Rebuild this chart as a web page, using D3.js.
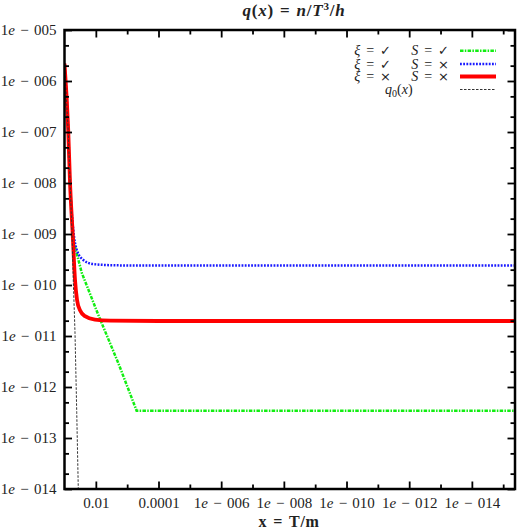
<!DOCTYPE html>
<meta charset="utf-8">
<script src="https://d3js.org/d3.v7.min.js"></script>
<style>
  body { margin: 0; background: #fff; }
  text { font-family: "Liberation Serif", "DejaVu Serif", serif; fill: #222; }
</style>
<div id="chart"></div>
<script>

// ---- data ----
var redX   = [0.1, 0.0759, 0.0668, 0.0550, 0.0462, 0.0398, 0.0320, 0.0222, 0.0107, 3.5e-3, 1e-4, 4.2e-16];
var redY   = [2.2e-6, 1.05e-7, 1.05e-8, 1.05e-9, 1.26e-10, 5.1e-11, 3.2e-11, 2.45e-11, 2.1e-11, 2.0e-11, 1.97e-11, 1.97e-11];

var blueX  = [0.1, 0.0759, 0.0668, 0.0524, 0.0408, 0.0251, 0.0120, 2.14e-3, 1.86e-4, 4.2e-16];
var blueY  = [2.2e-6, 1.05e-7, 1.05e-8, 1.2e-9, 4.9e-10, 3.1e-10, 2.57e-10, 2.43e-10, 2.4e-10, 2.4e-10];

var greenX = [0.1, 0.0759, 0.0668, 0.0550, 0.0462, 0.0282, 8.3e-3, 1.92e-3, 5.0e-4, 4.2e-16];
var greenY = [2.2e-6, 1.05e-7, 1.05e-8, 1.05e-9, 5.6e-10, 1.74e-10, 2.57e-11, 2.95e-12, 3.43e-13, 3.43e-13];

var q0X    = [0.1, 0.0759, 0.0661, 0.0575, 0.0525, 0.0462, 0.0407, 0.0363];
var q0Y    = [2.2e-6, 1e-7, 1e-8, 1e-9, 1.26e-10, 1.15e-11, 3.2e-13, 1e-14];

var xMajor = [1e-2, 1e-4, 1e-6, 1e-8, 1e-10, 1e-12, 1e-14];
var xMinor = [1e-3, 1e-5, 1e-7, 1e-9, 1e-11, 1e-13, 1e-15];
var yMajor = [1e-5, 1e-6, 1e-7, 1e-8, 1e-9, 1e-10, 1e-11, 1e-12, 1e-13, 1e-14];
var yMinor = [];
for (var k = 6; k <= 14; k++) { yMinor.push(2 * Math.pow(10, -k), 5 * Math.pow(10, -k)); }

var legendLabels = [["ξ", "✓", "S", "✓"], ["ξ", "✓", "S", "×"], ["ξ", "×", "S", "×"]];

// ---- layout ----
var W = 518, H = 531;
var L = 64.5, R = 515, T = 30, B = 489;

var svg = d3.select("#chart").append("svg")
  .attr("width", W).attr("height", H);

var x = d3.scaleLog().domain([0.1, 4.2e-16]).range([L, R]);
var y = d3.scaleLog().domain([1e-14, 1e-5]).range([B, T]);

function expLabel(v) {
  var e = Math.round(Math.log10(v));
  if (e === -2) return "0.01";
  if (e === -4) return "0.0001";
  return "1e − " + String(-e).padStart(3, "0");
}

// clip region
svg.append("clipPath").attr("id", "clip")
  .append("rect").attr("x", L).attr("y", T).attr("width", R - L).attr("height", B - T);

// ---- curves ----
function zip(a, b) { return a.map(function (v, i) { return [v, b[i]]; }); }

var series = [
  { data: zip(greenX, greenY), color: "#11ee11", width: 2.5, dash: "3.5,1.3,1.5,1.3", curve: d3.curveLinear },
  { data: zip(blueX, blueY),   color: "#1a1aff", width: 2.5, dash: "1.8,1.4",         curve: d3.curveMonotoneX },
  { data: zip(redX, redY),     color: "#ff0000", width: 3.8, dash: null,              curve: d3.curveMonotoneX },
  { data: zip(q0X, q0Y),       color: "#333333", width: 1,   dash: "2.5,1.5",         curve: d3.curveLinear }
];

var g = svg.append("g").attr("clip-path", "url(#clip)");
series.forEach(function (s) {
  var line = d3.line()
    .x(function (d) { return x(d[0]); })
    .y(function (d) { return y(d[1]); })
    .curve(s.curve);
  g.append("path")
    .datum(s.data)
    .attr("d", line)
    .attr("fill", "none")
    .attr("stroke", s.color)
    .attr("stroke-width", s.width)
    .attr("stroke-dasharray", s.dash);
});

// ---- axes ----
function styleAxis(sel) {
  sel.select(".domain").remove();
  sel.selectAll(".tick line").attr("stroke", "#000").attr("stroke-width", 1.8);
  sel.selectAll(".tick text").attr("fill", "#222")
    .style("font-family", "'Liberation Serif', serif")
    .style("font-size", "15px")
    .style("word-spacing", "1.5px");
}

// bottom
svg.append("g").attr("transform", "translate(0," + B + ")")
  .call(d3.axisBottom(x).tickValues(xMajor).tickSize(-7.5).tickPadding(8).tickFormat(expLabel))
  .call(styleAxis);
svg.append("g").attr("transform", "translate(0," + B + ")")
  .call(d3.axisBottom(x).tickValues(xMinor).tickSize(-4.5).tickFormat(""))
  .call(styleAxis);
// top
svg.append("g").attr("transform", "translate(0," + T + ")")
  .call(d3.axisTop(x).tickValues(xMajor).tickSize(-7.5).tickFormat(""))
  .call(styleAxis);
svg.append("g").attr("transform", "translate(0," + T + ")")
  .call(d3.axisTop(x).tickValues(xMinor).tickSize(-4.5).tickFormat(""))
  .call(styleAxis);
// left
svg.append("g").attr("transform", "translate(" + L + ",0)")
  .call(d3.axisLeft(y).tickValues(yMajor).tickSize(-7.5).tickPadding(8).tickFormat(expLabel))
  .call(styleAxis);
svg.append("g").attr("transform", "translate(" + L + ",0)")
  .call(d3.axisLeft(y).tickValues(yMinor).tickSize(-4.5).tickFormat(""))
  .call(styleAxis);
// right
svg.append("g").attr("transform", "translate(" + R + ",0)")
  .call(d3.axisRight(y).tickValues(yMajor).tickSize(-7.5).tickFormat(""))
  .call(styleAxis);
svg.append("g").attr("transform", "translate(" + R + ",0)")
  .call(d3.axisRight(y).tickValues(yMinor).tickSize(-4.5).tickFormat(""))
  .call(styleAxis);

// italic "e" in tick labels
svg.selectAll(".tick text").each(function () {
  var t = d3.select(this), s = t.text();
  if (s.indexOf("e") < 0) return;
  t.text(null);
  t.append("tspan").text("1");
  t.append("tspan").style("font-style", "italic").text("e");
  t.append("tspan").text(s.slice(2));
});

// frame
svg.append("rect")
  .attr("x", L).attr("y", T).attr("width", R - L).attr("height", B - T)
  .attr("fill", "none").attr("stroke", "#000").attr("stroke-width", 2.5);

// ---- title and axis label ----
var title = svg.append("text")
  .attr("x", 294).attr("y", 16).attr("text-anchor", "middle")
  .style("font-size", "17px").style("font-weight", "bold")
  .style("letter-spacing", "0.8px").style("word-spacing", "1px");
title.append("tspan").style("font-style", "italic").text("q");
title.append("tspan").text("(");
title.append("tspan").style("font-style", "italic").text("x");
title.append("tspan").text(") = ");
title.append("tspan").style("font-style", "italic").text("n");
title.append("tspan").text("/");
title.append("tspan").style("font-style", "italic").text("T");
title.append("tspan").attr("dy", -6).style("font-size", "11px").text("3");
title.append("tspan").attr("dy", 6).text("/");
title.append("tspan").style("font-style", "italic").text("h");

svg.append("text")
  .attr("x", 289).attr("y", 527).attr("text-anchor", "middle")
  .style("font-size", "16px").style("font-weight", "bold")
  .style("letter-spacing", "0.7px").style("word-spacing", "1.5px")
  .text("x = T/m");

// ---- legend ----
var legY = [50.7, 64, 76.5, 89.5];
var leg = svg.append("g");
series.forEach(function (s, i) {
  leg.append("line")
    .attr("x1", 460).attr("x2", 496)
    .attr("y1", legY[i]).attr("y2", legY[i])
    .attr("stroke", s.color)
    .attr("stroke-width", s.width)
    .attr("stroke-dasharray", s.dash);
});
legendLabels.forEach(function (lab, i) {
  [0, 1].forEach(function (j) {
    var t = leg.append("text")
      .attr("x", j === 0 ? 391 : 449).attr("y", legY[i] + 4.5)
      .attr("text-anchor", "end")
      .style("font-size", "14px").style("word-spacing", "2.5px");
    t.append("tspan").style("font-style", "italic").text(lab[2 * j]);
    t.append("tspan").text(" = ");
    t.append("tspan").style("font-family", "'DejaVu Sans'").style("font-size", "13px").text(lab[2 * j + 1]);
  });
});
var q0t = leg.append("text")
  .attr("x", 385).attr("y", legY[3] + 4.5)
  .style("font-size", "14px");
q0t.append("tspan").style("font-style", "italic").text("q");
q0t.append("tspan").attr("dy", 3).style("font-size", "10px").text("0");
q0t.append("tspan").attr("dy", -3).text("(");
q0t.append("tspan").style("font-style", "italic").text("x");
q0t.append("tspan").text(")");

</script>
